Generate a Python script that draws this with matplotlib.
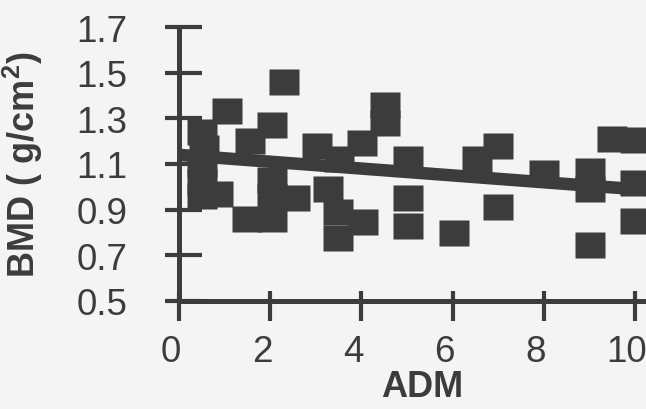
#!/usr/bin/env python3
"""
BMD vs ADM scatter with linear trend line (scanned figure style).
"""

import matplotlib
matplotlib.use('Agg')
import matplotlib.pyplot as plt
from matplotlib.transforms import ScaledTranslation

# Data
adm = [0.5, 0.55, 0.5, 0.5, 0.85, 0.5, 1.05, 1.55, 2.05, 2.3,
       2.05, 2.05, 1.5, 2.05, 2.55, 3.03, 3.5, 3.27, 3.49, 3.49,
       4.03, 4.01, 4.52, 4.52, 5.03, 5.03, 5.03, 6.53, 7.0, 7.0,
       6.02, 8.0, 9.01, 9.01, 9.01, 9.5, 10.0, 10.0, 10.0]
bmd = [1.24, 1.17, 1.10, 1.02, 0.97, 0.96, 1.33, 1.20, 1.27, 1.46,
       1.03, 0.96, 0.86, 0.86, 0.95, 1.18, 1.12, 0.99, 0.89, 0.775,
       0.845, 1.19, 1.36, 1.28, 1.12, 0.95, 0.83, 1.12, 1.18, 0.91,
       0.80, 1.06, 1.07, 0.99, 0.745, 1.21, 1.205, 1.015, 0.85]

# Trend line end points
trend_x = [0.0, 10.3]
trend_y = [1.14, 0.9855]

x_ticks = [0, 2, 4, 6, 8, 10]
y_ticks = [0.5, 0.7, 0.9, 1.1, 1.3, 1.5, 1.7]
y_tick_labels = ['0.5', '0.7', '0.9', '1.1', '1.3', '1.5', '1.7']

INK = '#3c3c3c'
PAPER = '#f4f4f4'

plt.rcParams['font.family'] = ['Liberation Sans', 'DejaVu Sans']
plt.rcParams['mathtext.fontset'] = 'custom'
plt.rcParams['mathtext.rm'] = 'Liberation Sans'
plt.rcParams['mathtext.bf'] = 'Liberation Sans:bold'


def main():
    fig = plt.figure(figsize=(6.46, 4.10), dpi=100, facecolor=PAPER)
    ax = fig.add_axes([179 / 646, 108 / 410, 467 / 646, 274 / 410])
    ax.set_facecolor(PAPER)

    # slightly wide rectangles, like the scanned markers
    rect = [(-1.0, -0.87), (1.0, -0.87), (1.0, 0.87), (-1.0, 0.87), (-1.0, -0.87)]
    ax.plot(adm, bmd, linestyle='none', marker=rect, markersize=21.5,
            markerfacecolor=INK, markeredgecolor='none')
    ax.plot(trend_x, trend_y, color=INK, linewidth=9, solid_capstyle='butt')

    ax.set_xlim(0, 467 / 45.6)
    ax.set_ylim(0.5, 1.7)

    for side in ['top', 'right']:
        ax.spines[side].set_visible(False)
    for side in ['left', 'bottom']:
        ax.spines[side].set_color(INK)
        ax.spines[side].set_linewidth(3.6)
        ax.spines[side].set_capstyle('butt')

    # ticks cross the axes: outer part as major, inner part as minor
    ax.set_xticks(x_ticks)
    ax.set_yticks(y_ticks)
    ax.set_yticklabels(y_tick_labels)
    ax.set_xticks(x_ticks, minor=True)
    ax.set_yticks(y_ticks, minor=True)
    ax.xaxis.remove_overlapping_locs = False
    ax.yaxis.remove_overlapping_locs = False

    ax.tick_params(axis='y', which='major', direction='out', length=10, width=3,
                   color=INK, labelsize=26.5, labelcolor=INK, pad=27)
    ax.tick_params(axis='y', which='minor', direction='in', length=16.5, width=3,
                   color=INK)
    ax.tick_params(axis='x', which='major', direction='out', length=14.5, width=3,
                   color=INK, labelsize=26.5, labelcolor=INK, pad=9)
    ax.tick_params(axis='x', which='minor', direction='in', length=7, width=3,
                   color=INK)

    # x tick labels sit a little left of their ticks in the scan
    shift = ScaledTranslation(-8 / 100, 0, fig.dpi_scale_trans)
    for lab in ax.get_xticklabels():
        lab.set_transform(lab.get_transform() + shift)

    ax.set_xlabel('ADM', fontsize=26, fontweight='bold', color=INK)
    ax.set_ylabel(r'BMD ( g/cm$^{\mathbf{2}}$)', fontsize=26, fontweight='bold',
                  color=INK)
    ax.xaxis.set_label_coords(0.52, -0.25)
    ax.yaxis.set_label_coords(-0.287, 0.5)

    fig.savefig('out.png', dpi=100, facecolor=PAPER)
    plt.close(fig)


if __name__ == '__main__':
    main()
